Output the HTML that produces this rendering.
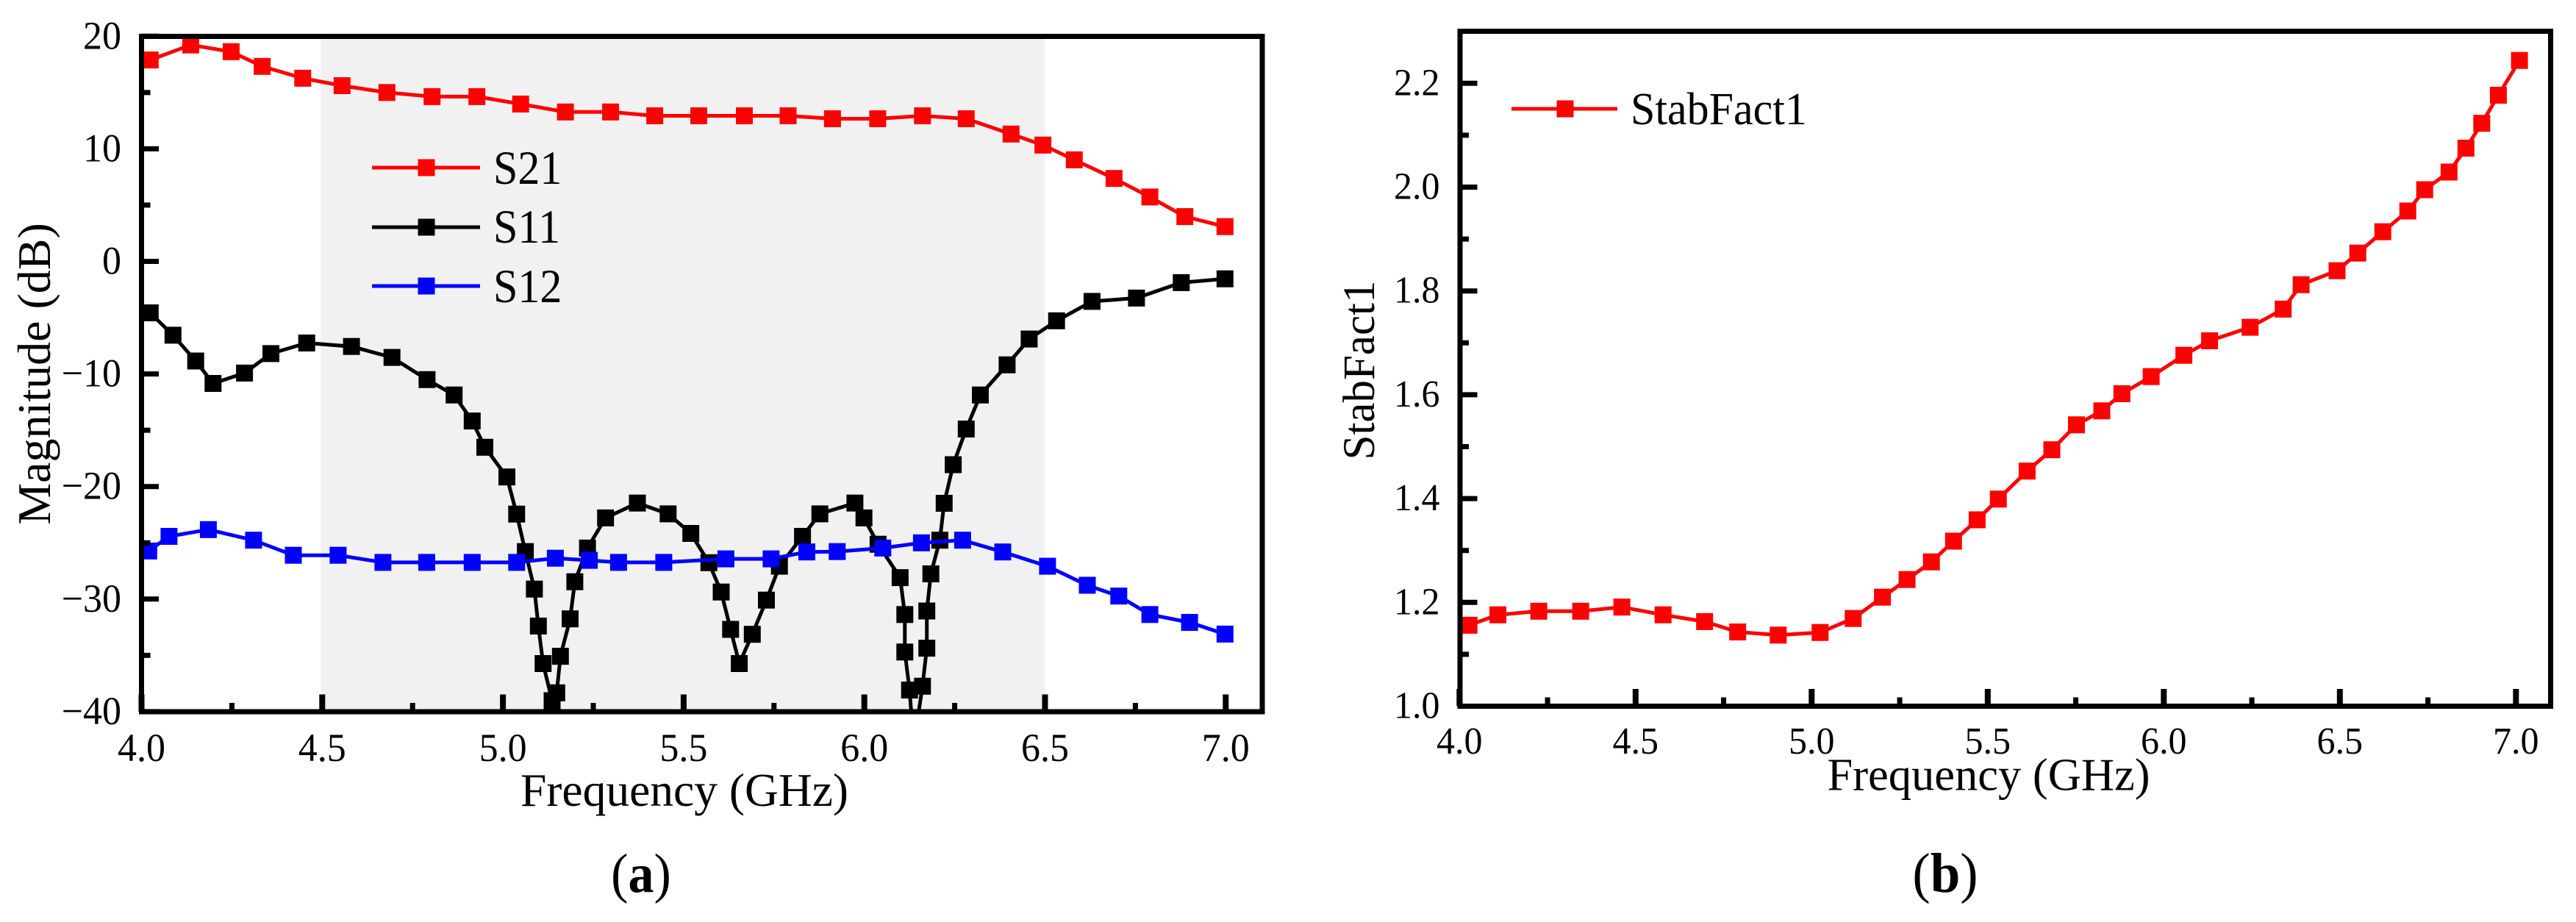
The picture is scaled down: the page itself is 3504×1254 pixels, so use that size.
<!DOCTYPE html>
<html lang="en">
<head>
<meta charset="utf-8">
<title>S-parameters and stability factor</title>
<style>
  html, body { margin: 0; padding: 0; background: #fff; }
  body { width: 3504px; height: 1254px; overflow: hidden; }
  svg { display: block; }
  text { font-family: "Liberation Serif", "Times New Roman", serif; fill: #000; }
</style>
</head>
<body>
<svg id="figure" xmlns="http://www.w3.org/2000/svg" width="3504" height="1254" viewBox="0 0 3504 1254">
  <defs>
    <clipPath id="clip-a"><rect x="192.5" y="49.5" width="1524.5" height="918.5"/></clipPath>
    <clipPath id="clip-b"><rect x="1985.3" y="42.5" width="1484.2" height="918"/></clipPath>
  </defs>

  <g id="panel-a">
    <g id="a-span"></g>
    <g id="a-series" clip-path="url(#clip-a)"></g>
    <g id="a-axes"></g>
    <text x="931" y="1096" font-size="63.5" text-anchor="middle">Frequency (GHz)</text>
    <text transform="translate(68 508.5) rotate(-90)" font-size="64" text-anchor="middle">Magnitude (dB)</text>
    <g>
      <g>
        <line x1="506" x2="653" y1="228" y2="228" stroke="#ff0000" stroke-width="5"/>
        <rect x="568.5" y="216.5" width="23" height="23" fill="#ff0000"/>
        <text transform="translate(671 250) scale(1 1.07)" font-size="60">S21</text>
      </g>
      <g>
        <line x1="506" x2="653" y1="309" y2="309" stroke="#000" stroke-width="5"/>
        <rect x="568.5" y="297.5" width="23" height="23" fill="#000"/>
        <text transform="translate(671 330) scale(1 1.07)" font-size="60">S11</text>
      </g>
      <g>
        <line x1="506" x2="653" y1="389" y2="389" stroke="#0000ff" stroke-width="5"/>
        <rect x="568.5" y="377.5" width="23" height="23" fill="#0000ff"/>
        <text transform="translate(671 411) scale(1 1.07)" font-size="60">S12</text>
      </g>
    </g>
    <text transform="translate(872 1213) scale(1 1.07)" font-size="70" text-anchor="middle">(<tspan font-weight="bold">a</tspan>)</text>
  </g>

  <g id="panel-b">
    <g id="b-series" clip-path="url(#clip-b)"></g>
    <g id="b-axes"></g>
    <text x="2705" y="1074.5" font-size="62.5" text-anchor="middle">Frequency (GHz)</text>
    <text transform="translate(1869 503.5) rotate(-90)" font-size="61" text-anchor="middle">StabFact1</text>
    <g>
      <g>
        <line x1="2056" x2="2200" y1="148" y2="148" stroke="#ff0000" stroke-width="5"/>
        <rect x="2117.5" y="136.5" width="23" height="23" fill="#ff0000"/>
        <text transform="translate(2218 169) scale(1 1.05)" font-size="60">StabFact1</text>
      </g>
    </g>
    <text transform="translate(2646 1213) scale(1 1.05)" font-size="73" text-anchor="middle">(<tspan font-weight="bold">b</tspan>)</text>
  </g>
</svg>

<script>
// ---- Panel (a) data ----
const aXMajorTicks = [4.0, 4.5, 5.0, 5.5, 6.0, 6.5, 7.0];
const aXMinorTicks = [4.25, 4.75, 5.25, 5.75, 6.25, 6.75];
const aXTickLabels = ["4.0", "4.5", "5.0", "5.5", "6.0", "6.5", "7.0"];
const aYMajorTicks = [20, 10, 0, -10, -20, -30, -40];
const aYMinorTicks = [15, 5, -5, -15, -25, -35];
const aYTickLabels = ["20", "10", "0", "\u221210", "\u221220", "\u221230", "\u221240"];
const aShadedBand = [4.496, 6.5];

const s21Freq = [4.024,4.136,4.248,4.334,4.446,4.555,4.679,4.804,4.928,5.049,5.173,5.298,5.420,5.542,5.668,5.789,5.912,6.037,6.161,6.282,6.406,6.494,6.581,6.691,6.790,6.887,6.998];
const s21Values = [17.89,19.23,18.63,17.32,16.27,15.61,15.00,14.64,14.64,13.98,13.27,13.27,12.93,12.93,12.93,12.93,12.67,12.67,12.93,12.67,11.31,10.33,9.02,7.37,5.72,3.98,3.09];

const s11Freq = [4.024,4.087,4.150,4.198,4.285,4.358,4.457,4.581,4.693,4.790,4.865,4.915,4.950,5.011,5.038,5.062,5.087,5.098,5.111,5.136,5.149,5.159,5.186,5.199,5.234,5.284,5.372,5.457,5.520,5.570,5.604,5.630,5.654,5.690,5.729,5.765,5.829,5.877,5.974,5.999,6.038,6.099,6.112,6.112,6.125,6.137,6.161,6.173,6.173,6.184,6.209,6.221,6.246,6.282,6.321,6.395,6.456,6.532,6.630,6.753,6.877,6.998];
const s11Values = [-4.57,-6.56,-8.85,-10.84,-9.92,-8.19,-7.25,-7.56,-8.53,-10.50,-11.87,-14.18,-16.51,-19.15,-22.45,-25.78,-29.11,-32.40,-35.73,-39.03,-38.33,-35.08,-31.76,-28.46,-25.47,-22.79,-21.47,-22.43,-24.17,-26.77,-29.37,-32.69,-35.73,-33.13,-30.09,-27.08,-24.43,-22.43,-21.47,-22.79,-25.13,-28.09,-31.37,-34.70,-38.08,-43.00,-37.74,-34.36,-31.06,-27.76,-24.77,-21.49,-18.06,-14.89,-11.87,-9.19,-6.90,-5.28,-3.55,-3.26,-1.89,-1.55];

const s12Freq = [4.020,4.076,4.185,4.310,4.420,4.544,4.668,4.789,4.915,5.038,5.145,5.239,5.320,5.445,5.617,5.742,5.841,5.925,6.051,6.158,6.272,6.383,6.507,6.617,6.704,6.790,6.900,6.998];
const s12Values = [-25.73,-24.43,-23.83,-24.77,-26.11,-26.11,-26.74,-26.74,-26.74,-26.74,-26.37,-26.56,-26.74,-26.74,-26.43,-26.43,-25.81,-25.78,-25.47,-25.00,-24.77,-25.81,-27.08,-28.77,-29.73,-31.37,-32.07,-33.11];

// ---- Panel (b) data ----
const bXMajorTicks = [4.0, 4.5, 5.0, 5.5, 6.0, 6.5, 7.0];
const bXMinorTicks = [4.25, 4.75, 5.25, 5.75, 6.25, 6.75];
const bXTickLabels = ["4.0", "4.5", "5.0", "5.5", "6.0", "6.5", "7.0"];
const bYMajorTicks = [2.2, 2.0, 1.8, 1.6, 1.4, 1.2, 1.0];
const bYMinorTicks = [2.1, 1.9, 1.7, 1.5, 1.3, 1.1];
const bYTickLabels = ["2.2", "2.0", "1.8", "1.6", "1.4", "1.2", "1.0"];

const stabFreq = [4.027,4.109,4.225,4.344,4.461,4.578,4.696,4.790,4.905,5.024,5.118,5.201,5.271,5.340,5.403,5.470,5.530,5.612,5.682,5.752,5.824,5.881,5.964,6.057,6.130,6.245,6.339,6.390,6.492,6.551,6.622,6.693,6.741,6.810,6.858,6.903,6.950,7.010];
const stabValues = [1.156,1.176,1.183,1.183,1.191,1.176,1.163,1.143,1.137,1.142,1.169,1.210,1.244,1.278,1.318,1.359,1.399,1.453,1.494,1.542,1.569,1.602,1.635,1.676,1.704,1.730,1.765,1.812,1.839,1.873,1.914,1.954,1.995,2.029,2.075,2.123,2.177,2.244];

// ---- Axis functions ----
const aX = v => 192.5 + (v - 4) * 491.6;
const aY = v => 355.5 - v * 15.31;
const bX = v => 1985.3 + (v - 4) * 479;
const bY = v => 960.5 - (v - 1) * 706;

const NS = "http://www.w3.org/2000/svg";
const MARKER = 23;

function drawSeries(parent, xs, ys, xFn, yFn, color, name) {
  const group = document.createElementNS(NS, "g");
  
  
  const line = document.createElementNS(NS, "polyline");
  
  
  line.setAttribute("points", xs.map((x, i) => xFn(x).toFixed(1) + "," + yFn(ys[i]).toFixed(1)).join(" "));
  line.setAttribute("fill", "none");
  line.setAttribute("stroke", color);
  line.setAttribute("stroke-width", "5");
  line.setAttribute("stroke-linejoin", "round");
  group.appendChild(line);
  xs.forEach((x, i) => {
    const m = document.createElementNS(NS, "rect");
    
    
    m.setAttribute("x", (xFn(x) - MARKER / 2).toFixed(1));
    m.setAttribute("y", (yFn(ys[i]) - MARKER / 2).toFixed(1));
    m.setAttribute("width", MARKER);
    m.setAttribute("height", MARKER);
    m.setAttribute("fill", color);
    group.appendChild(m);
  });
  parent.appendChild(group);
}

function drawTick(parent, x1, y1, x2, y2, width, name) {
  const t = document.createElementNS(NS, "line");
  
  
  t.setAttribute("x1", x1);
  t.setAttribute("y1", y1);
  t.setAttribute("x2", x2);
  t.setAttribute("y2", y2);
  t.setAttribute("stroke", "#000");
  t.setAttribute("stroke-width", width);
  parent.appendChild(t);
}

function drawLabel(parent, x, y, str, anchor, size, name) {
  const t = document.createElementNS(NS, "text");
  
  
  t.setAttribute("transform", "translate(" + x + " " + y + ") scale(1 1.04)");
  t.setAttribute("text-anchor", anchor);
  t.setAttribute("font-size", size);
  t.textContent = str;
  parent.appendChild(t);
}

function drawAxes(parent, o) {
  o.xMajor.forEach((v, i) => {
    drawTick(parent, o.xFn(v), o.bottom, o.xFn(v), o.bottom - 23.5, 8, "x-major-tick");
    drawLabel(parent, o.xFn(v), o.xLabelY, o.xLabels[i], "middle", o.fontSize, "x-tick-label");
  });
  o.xMinor.forEach(v => {
    drawTick(parent, o.xFn(v), o.bottom, o.xFn(v), o.bottom - 12, 7, "x-minor-tick");
  });
  o.yMajor.forEach((v, i) => {
    drawTick(parent, o.left, o.yFn(v), o.left + 23.5, o.yFn(v), 7, "y-major-tick");
    drawLabel(parent, o.yLabelX, o.yFn(v) + o.yLabelDy, o.yLabels[i], "end", o.fontSize, "y-tick-label");
  });
  o.yMinor.forEach(v => {
    drawTick(parent, o.left, o.yFn(v), o.left + 12, o.yFn(v), 7, "y-minor-tick");
  });
  const frame = document.createElementNS(NS, "rect");
  
  
  frame.setAttribute("x", o.left);
  frame.setAttribute("y", o.top);
  frame.setAttribute("width", o.right - o.left);
  frame.setAttribute("height", o.bottom - o.top);
  frame.setAttribute("fill", "none");
  frame.setAttribute("stroke", "#000");
  frame.setAttribute("stroke-width", "7");
  parent.appendChild(frame);
}

// ---- Panel (a) ----
const band = document.createElementNS(NS, "rect");


band.setAttribute("x", aX(aShadedBand[0]));
band.setAttribute("y", 49.5);
band.setAttribute("width", aX(aShadedBand[1]) - aX(aShadedBand[0]));
band.setAttribute("height", 918.5);
band.setAttribute("fill", "#f1f1f1");
document.getElementById("a-span").appendChild(band);

const aSeries = document.getElementById("a-series");
drawSeries(aSeries, s21Freq, s21Values, aX, aY, "#ff0000", "series-s21");
drawSeries(aSeries, s11Freq, s11Values, aX, aY, "#000000", "series-s11");
drawSeries(aSeries, s12Freq, s12Values, aX, aY, "#0000ff", "series-s12");

drawAxes(document.getElementById("a-axes"), {
  xFn: aX, yFn: aY, left: 192.5, right: 1717, top: 49.5, bottom: 968,
  xMajor: aXMajorTicks, xMinor: aXMinorTicks, xLabels: aXTickLabels,
  yMajor: aYMajorTicks, yMinor: aYMinorTicks, yLabels: aYTickLabels,
  xLabelY: 1035, yLabelX: 165, yLabelDy: 17, fontSize: 52
});

// ---- Panel (b) ----
drawSeries(document.getElementById("b-series"), stabFreq, stabValues, bX, bY, "#ff0000", "series-stabfact1");

drawAxes(document.getElementById("b-axes"), {
  xFn: bX, yFn: bY, left: 1986, right: 3469.5, top: 42.5, bottom: 960.5,
  xMajor: bXMajorTicks, xMinor: bXMinorTicks, xLabels: bXTickLabels,
  yMajor: bYMajorTicks, yMinor: bYMinorTicks, yLabels: bYTickLabels,
  xLabelY: 1025, yLabelX: 1958.5, yLabelDy: 16, fontSize: 50
});
</script>
</body>
</html>
